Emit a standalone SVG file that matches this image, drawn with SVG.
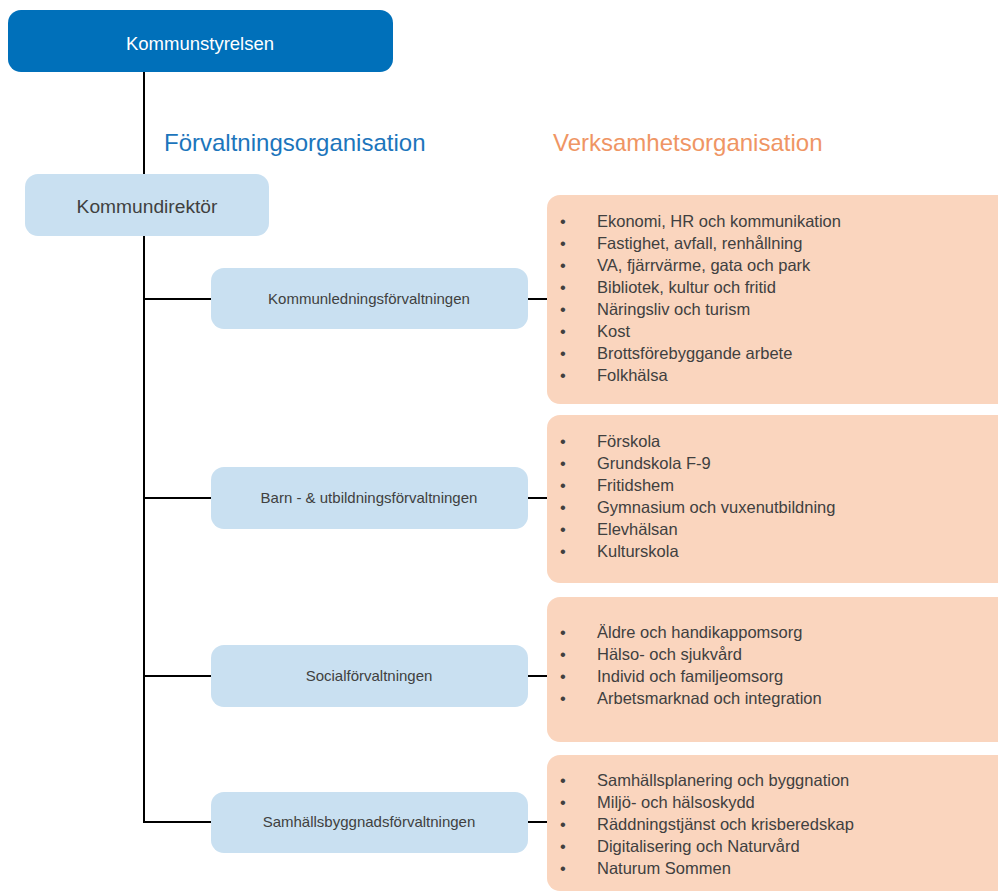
<svg xmlns="http://www.w3.org/2000/svg" width="998" height="892" viewBox="0 0 998 892">
<style>
text{font-family:"Liberation Sans",Arial,sans-serif}
.top{fill:#0070ba}
.dir{fill:#c9e0f1}
.org{fill:#c9e0f1}
.act{fill:#fad5be}
.tw{fill:#ffffff;font-size:18.5px;text-anchor:middle}
.td{fill:#404040;font-size:19.2px;text-anchor:middle}
.tn{fill:#404040;font-size:15px;text-anchor:middle}
.li{fill:#404040;font-size:16.5px}
.h1{fill:#1c75bc;font-size:24px}
.h2{fill:#ef9564;font-size:24px}
.ln{stroke:#000;stroke-width:2;fill:none}
</style>
<rect width="998" height="892" fill="#ffffff"/>
<g id="connectors">
<path class="ln" d="M144 72V174M144 236V823M143 299H211M143 498H211M143 676H211M143 822H211M527 299H548M527 498H548M527 676H548M527 822H548"/>
</g>
<g id="kommunstyrelsen">
<rect class="top" x="8" y="10" width="385" height="62" rx="13"/>
<text class="tw" x="200" y="50">Kommunstyrelsen</text>
</g>
<text class="h1" x="164" y="151">Förvaltningsorganisation</text>
<text class="h2" x="553" y="151">Verksamhetsorganisation</text>
<g id="kommundirektor">
<rect class="dir" x="25" y="174" width="244" height="62" rx="13"/>
<text class="td" x="147" y="213">Kommundirektör</text>
</g>
<g id="kommunledning">
<rect class="org" x="211" y="268" width="317" height="61" rx="13"/>
<text class="tn" x="369" y="304">Kommunledningsförvaltningen</text>
</g>
<g id="barn">
<rect class="org" x="211" y="467" width="317" height="62" rx="13"/>
<text class="tn" x="369" y="503">Barn - &amp; utbildningsförvaltningen</text>
</g>
<g id="social">
<rect class="org" x="211" y="645" width="317" height="62" rx="13"/>
<text class="tn" x="369" y="681">Socialförvaltningen</text>
</g>
<g id="samhallsbyggnad">
<rect class="org" x="211" y="792" width="317" height="61" rx="13"/>
<text class="tn" x="369" y="827">Samhällsbyggnadsförvaltningen</text>
</g>
<g id="verksamhet-kommunledning">
<rect class="act" x="547" y="195" width="470" height="209" rx="13"/>
<text class="li" x="560" y="227">•</text><text class="li" x="597" y="227">Ekonomi, HR och kommunikation</text>
<text class="li" x="560" y="249">•</text><text class="li" x="597" y="249">Fastighet, avfall, renhållning</text>
<text class="li" x="560" y="271">•</text><text class="li" x="597" y="271">VA, fjärrvärme, gata och park</text>
<text class="li" x="560" y="293">•</text><text class="li" x="597" y="293">Bibliotek, kultur och fritid</text>
<text class="li" x="560" y="315">•</text><text class="li" x="597" y="315">Näringsliv och turism</text>
<text class="li" x="560" y="337">•</text><text class="li" x="597" y="337">Kost</text>
<text class="li" x="560" y="359">•</text><text class="li" x="597" y="359">Brottsförebyggande arbete</text>
<text class="li" x="560" y="381">•</text><text class="li" x="597" y="381">Folkhälsa</text>
</g>
<g id="verksamhet-barn">
<rect class="act" x="547" y="415" width="470" height="168" rx="13"/>
<text class="li" x="560" y="447">•</text><text class="li" x="597" y="447">Förskola</text>
<text class="li" x="560" y="469">•</text><text class="li" x="597" y="469">Grundskola F-9</text>
<text class="li" x="560" y="491">•</text><text class="li" x="597" y="491">Fritidshem</text>
<text class="li" x="560" y="513">•</text><text class="li" x="597" y="513">Gymnasium och vuxenutbildning</text>
<text class="li" x="560" y="535">•</text><text class="li" x="597" y="535">Elevhälsan</text>
<text class="li" x="560" y="557">•</text><text class="li" x="597" y="557">Kulturskola</text>
</g>
<g id="verksamhet-social">
<rect class="act" x="547" y="597" width="470" height="145" rx="13"/>
<text class="li" x="560" y="638">•</text><text class="li" x="597" y="638">Äldre och handikappomsorg</text>
<text class="li" x="560" y="660">•</text><text class="li" x="597" y="660">Hälso- och sjukvård</text>
<text class="li" x="560" y="682">•</text><text class="li" x="597" y="682">Individ och familjeomsorg</text>
<text class="li" x="560" y="704">•</text><text class="li" x="597" y="704">Arbetsmarknad och integration</text>
</g>
<g id="verksamhet-samhallsbyggnad">
<rect class="act" x="547" y="755" width="470" height="136" rx="13"/>
<text class="li" x="560" y="786">•</text><text class="li" x="597" y="786">Samhällsplanering och byggnation</text>
<text class="li" x="560" y="808">•</text><text class="li" x="597" y="808">Miljö- och hälsoskydd</text>
<text class="li" x="560" y="830">•</text><text class="li" x="597" y="830">Räddningstjänst och krisberedskap</text>
<text class="li" x="560" y="852">•</text><text class="li" x="597" y="852">Digitalisering och Naturvård</text>
<text class="li" x="560" y="874">•</text><text class="li" x="597" y="874">Naturum Sommen</text>
</g>
</svg>
